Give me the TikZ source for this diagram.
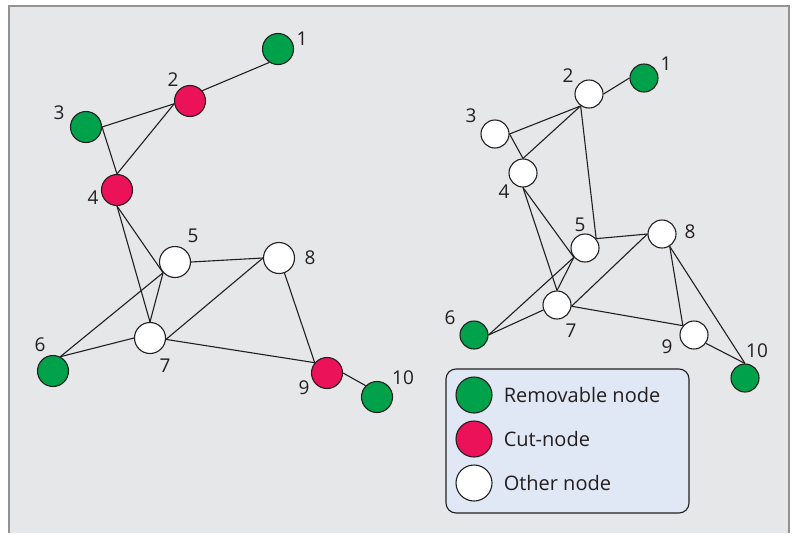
\documentclass[tikz,border=0pt]{standalone}
\usepackage{fontspec}
\setmainfont{Open Sans}
\usepackage{tikz}

\definecolor{removable}{HTML}{00A14B}
\definecolor{cutnode}{HTML}{EC1259}
\definecolor{panel}{HTML}{E6E7E9}
\definecolor{legendfill}{HTML}{E1E8F5}
\definecolor{ink}{HTML}{231F20}

\tikzset{
  vertex/.style={circle,draw=ink,line width=1.1pt,inner sep=0pt,minimum size=31pt},
  small vertex/.style={vertex,minimum size=28pt},
  legend vertex/.style={vertex,minimum size=36pt},
  num/.style={text=ink,inner sep=0pt,font=\fontsize{19}{21}\selectfont},
  key/.style={num,anchor=west,font=\fontsize{20}{22}\selectfont},
  link/.style={draw=ink,line width=1.1pt},
}

\begin{document}
\begin{tikzpicture}[x=1pt,y=-1pt]
\useasboundingbox (0,0) rectangle (795,533);
\fill[panel] (9,6) rectangle (789,533);
\draw[gray!85,line width=2pt] (9,533) -- (9,6) -- (789,6) -- (789,533);
% left graph
\draw (278,49) node (l1) [vertex,fill=removable] {};
\draw (190,101) node (l2) [vertex,fill=cutnode] {};
\draw (86,127) node (l3) [vertex,fill=removable] {};
\draw (117,190) node (l4) [vertex,fill=cutnode] {};
\draw (175,262) node (l5) [vertex,fill=white] {};
\draw (53,371) node (l6) [vertex,fill=removable] {};
\draw (150,338) node (l7) [vertex,fill=white] {};
\draw (279,258) node (l8) [vertex,fill=white] {};
\draw (327,373) node (l9) [vertex,fill=cutnode] {};
\draw (377,397) node (l10) [vertex,fill=removable] {};
\draw[link] (l1.237) -- (l2.40);
\draw[link] (l2.190) -- (l3.east);
\draw[link] (l2.190) -- (l4.north);
\draw[link] (l3.east) -- (l4.north);
\draw[link] (l4.south) -- (l5.222);
\draw[link] (l4.south) -- (l7.north);
\draw[link] (l5.east) -- (l8.west);
\draw[link] (l5.222) -- (l7.north);
\draw[link] (l5.222) -- (l6.63);
\draw[link] (l6.63) -- (l7.west);
\draw[link] (l7.-5) -- (l8.west);
\draw[link] (l7.-5) -- (l9.140);
\draw[link] (l8.-70) -- (l9.140);
\draw[link] (l9.east) -- (l10.135);
\draw (302,39) node (lt1) [num] {1};
\draw (173,80) node (lt2) [num] {2};
\draw (59,113) node (lt3) [num] {3};
\draw (93,198) node (lt4) [num] {4};
\draw (193,236) node (lt5) [num] {5};
\draw (40,345) node (lt6) [num] {6};
\draw (165,366) node (lt7) [num] {7};
\draw (310,258) node (lt8) [num] {8};
\draw (304,388) node (lt9) [num] {9};
\draw (403,378) node (lt10) [num] {10};
% right graph
\draw (644,78) node (r1) [small vertex,fill=removable] {};
\draw (589,94) node (r2) [small vertex,fill=white] {};
\draw (495,134) node (r3) [small vertex,fill=white] {};
\draw (523,173) node (r4) [small vertex,fill=white] {};
\draw (585,248) node (r5) [small vertex,fill=white] {};
\draw (474,335) node (r6) [small vertex,fill=removable] {};
\draw (557,305) node (r7) [small vertex,fill=white] {};
\draw (662,234) node (r8) [small vertex,fill=white] {};
\draw (694,335) node (r9) [small vertex,fill=white] {};
\draw (745,378) node (r10) [small vertex,fill=removable] {};
\draw[link] (r1.west) -- (r2.east);
\draw[link] (r2.235) -- (r3.east);
\draw[link] (r2.235) -- (r4.north);
\draw[link] (r2.235) -- (r5.40);
\draw[link] (r3.east) -- (r4.north);
\draw[link] (r4.south) -- (r5.220);
\draw[link] (r4.south) -- (r7.north);
\draw[link] (r5.40) -- (r8.west);
\draw[link] (r5.220) -- (r7.north);
\draw[link] (r5.220) -- (r6.east);
\draw[link] (r6.east) -- (r7.200);
\draw[link] (r7.-5) -- (r8.west);
\draw[link] (r7.-5) -- (r9.140);
\draw[link] (r8.-58) -- (r9.140);
\draw[link] (r8.-58) -- (r10.north);
\draw[link] (r9.-35) -- (r10.north);
\draw (666,64) node (rt1) [num] {1};
\draw (568,76) node (rt2) [num] {2};
\draw (471,116) node (rt3) [num] {3};
\draw (504,192) node (rt4) [num] {4};
\draw (580,225) node (rt5) [num] {5};
\draw (450,318) node (rt6) [num] {6};
\draw (571,331) node (rt7) [num] {7};
\draw (690,232) node (rt8) [num] {8};
\draw (667,347) node (rt9) [num] {9};
\draw (757,351) node (rt10) [num] {10};
% legend
\draw (567.5,441) node (legend) [draw=ink,line width=1.1pt,fill=legendfill,rounded corners=10pt,minimum width=243pt,minimum height=144pt] {};
\draw (474,395) node (k1) [legend vertex,fill=removable] {};
\draw (474,439) node (k2) [legend vertex,fill=cutnode] {};
\draw (474,483) node (k3) [legend vertex,fill=white] {};
\draw (k1.east) ++(11,0) node (kt1) [key] {Removable node};
\draw (k2.east) ++(11,0) node (kt2) [key] {Cut-node};
\draw (k3.east) ++(11,0) node (kt3) [key] {Other node};
\end{tikzpicture}
\end{document}
